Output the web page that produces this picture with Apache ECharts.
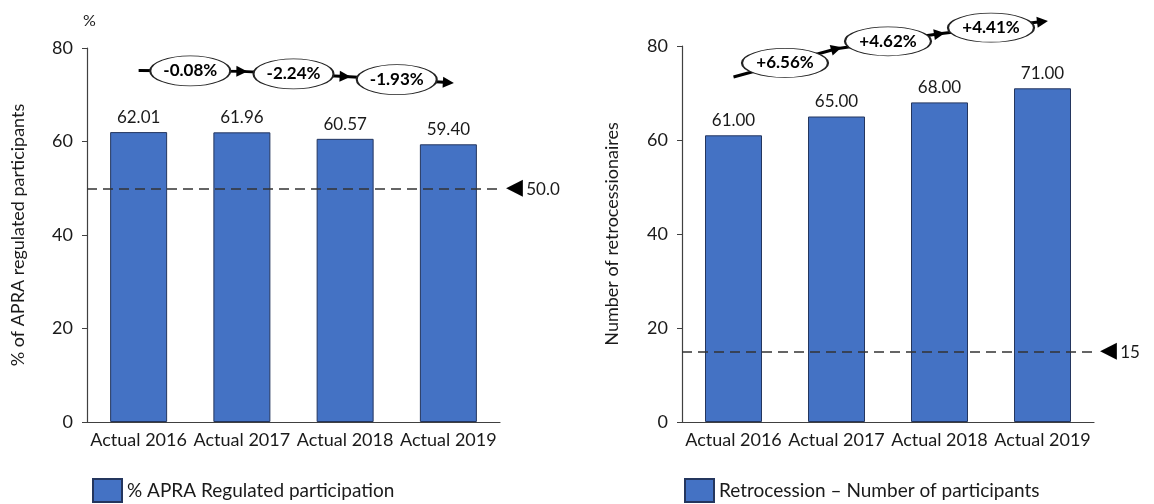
<!DOCTYPE html>
<html>
<head>
<meta charset="utf-8">
<script src="https://cdn.jsdelivr.net/npm/echarts@6/dist/echarts.min.js"></script>
<style>html,body{margin:0;padding:0;background:#fff}#c{width:1154px;height:504px}</style>
</head>
<body>
<div id="c"></div>
<script>
const categories = ['Actual 2016', 'Actual 2017', 'Actual 2018', 'Actual 2019'];
const aprValues = [62.01, 61.96, 60.57, 59.40];
const retroValues = [61.00, 65.00, 68.00, 71.00];
const aprChangeLabels = ['-0.08%', '-2.24%', '-1.93%'];
const retroChangeLabels = ['+6.56%', '+4.62%', '+4.41%'];
const aprArrowLevels = [75.2, 75.0, 73.9, 72.6];
const retroArrowLevels = [73.4, 79.4, 82.6, 85.2];
const aprThreshold = 50;
const aprThresholdLabel = '50.0';
const retroThreshold = 15;
const retroThresholdLabel = '15';
const yMin = 0, yMax = 80, yStep = 20;
const aprSeriesName = '% APRA Regulated participation';
const retroSeriesName = 'Retrocession \u2013 Number of participants';
const aprAxisName = '% of APRA regulated participants';
const retroAxisName = 'Number of retrocessionaires';

const FONT = 'Lato, "Noto Sans", sans-serif';
const AXIS_COLOR = '#404040';
const TEXT_COLOR = '#1a1a1a';
const BAR_COLOR = '#4472C4';
const BAR_BORDER = '#24365e';

function segments(levels) {
  const out = [];
  for (let i = 0; i < levels.length - 1; i++) {
    out.push({ coords: [[i, levels[i]], [i + 1, levels[i + 1]]] });
  }
  return out;
}
function mids(levels, labels) {
  const out = [];
  for (let i = 0; i < levels.length - 1; i++) {
    out.push({ value: [i + 0.5, (levels[i] + levels[i + 1]) / 2], name: labels[i] });
  }
  return out;
}

function catAxis(grid) {
  return {
    type: 'category', gridIndex: grid, data: categories,
    axisLine: { show: true, onZero: false, lineStyle: { color: AXIS_COLOR, width: 1.2 } },
    axisTick: { show: false },
    axisLabel: { color: TEXT_COLOR, fontFamily: FONT, fontSize: 18, margin: 9, interval: 0 }
  };
}
function hiddenValueX(grid) {
  return { type: 'value', gridIndex: grid, min: -0.5, max: 3.5, show: false,
    axisLine: { show: false, onZero: false } };
}
function yAx(grid, name, gap, xIdx) {
  return {
    type: 'value', gridIndex: grid, min: yMin, max: yMax, interval: yStep,
    name: name, nameLocation: 'middle', nameGap: gap, nameRotate: 90,
    nameTextStyle: { color: TEXT_COLOR, fontFamily: FONT, fontSize: 18 },
    axisLine: { show: true, onZero: false, lineStyle: { color: AXIS_COLOR, width: 1.2 } },
    axisTick: { show: true, length: 5, lineStyle: { color: AXIS_COLOR } },
    splitLine: { show: false },
    axisLabel: { color: TEXT_COLOR, fontFamily: FONT, fontSize: 18, margin: 14 }
  };
}
function barSeries(name, values, xi, yi, thr, thrLabel) {
  return {
    type: 'bar', name: name, data: values, xAxisIndex: xi, yAxisIndex: yi,
    barWidth: 57,
    itemStyle: { color: BAR_COLOR, borderColor: BAR_BORDER, borderWidth: 1 },
    label: {
      show: true, position: 'top', distance: 6, color: TEXT_COLOR, fontFamily: FONT, fontSize: 17,
      formatter: p => Number(p.value).toFixed(2)
    },
    markLine: {
      silent: true, symbol: 'none', animation: false,
      lineStyle: { type: [10, 6], color: '#333', width: 1.5 },
      label: {
        show: true, position: 'end', distance: 6,
        formatter: '{t|\u25C0} {v|' + thrLabel + '}',
        rich: {
          t: { fontFamily: '"DejaVu Sans"', fontSize: 22, color: '#000' },
          v: { fontFamily: FONT, fontSize: 17, color: TEXT_COLOR, padding: [2, 0, 0, 0] }
        }
      },
      data: [{ yAxis: thr }]
    }
  };
}
function arrowSeries(levels, xi, yi) {
  return {
    type: 'lines', coordinateSystem: 'cartesian2d', xAxisIndex: xi, yAxisIndex: yi,
    clip: false, silent: true, z: 3,
    symbol: ['none', 'triangle'], symbolSize: 11,
    lineStyle: { color: '#000', width: 3, opacity: 1 },
    data: segments(levels)
  };
}
function ellipseSeries(levels, labels, xi, yi, size) {
  return {
    type: 'scatter', xAxisIndex: xi, yAxisIndex: yi, clip: false, silent: true, z: 5,
    symbol: 'circle', symbolSize: size,
    itemStyle: { color: '#fff', borderColor: '#222', borderWidth: 1.3, opacity: 1 },
    label: {
      show: true, position: 'inside', color: '#000', fontFamily: FONT, fontSize: 17, fontWeight: 'bold',
      formatter: p => p.name
    },
    data: mids(levels, labels)
  };
}

const chart = echarts.init(document.getElementById('c'), null, { renderer: 'canvas' });
chart.setOption({
  animation: false,
  backgroundColor: '#fff',
  title: { text: '%', left: 83, top: 13, padding: 0, textStyle: { fontFamily: FONT, fontSize: 16, fontWeight: 'normal', color: TEXT_COLOR } },
  grid: [
    { left: 87, right: 654, top: 48, bottom: 82 },
    { left: 682, right: 60, top: 46, bottom: 82 }
  ],
  xAxis: [catAxis(0), hiddenValueX(0), catAxis(1), hiddenValueX(1)],
  yAxis: [yAx(0, aprAxisName, 60), yAx(1, retroAxisName, 61)],
  legend: [
    { data: [aprSeriesName], left: 92, top: 478, padding: 0, itemWidth: 29, itemHeight: 23, itemGap: 10, icon: 'rect',
      textStyle: { fontFamily: FONT, fontSize: 19, color: TEXT_COLOR } },
    { data: [retroSeriesName], left: 684, top: 478, padding: 0, itemWidth: 29, itemHeight: 23, itemGap: 10, icon: 'rect',
      textStyle: { fontFamily: FONT, fontSize: 19, color: TEXT_COLOR } }
  ],
  series: [
    barSeries(aprSeriesName, aprValues, 0, 0, aprThreshold, aprThresholdLabel),
    barSeries(retroSeriesName, retroValues, 2, 1, retroThreshold, retroThresholdLabel),
    arrowSeries(aprArrowLevels, 1, 0),
    arrowSeries(retroArrowLevels, 3, 1),
    ellipseSeries(aprArrowLevels, aprChangeLabels, 1, 0, [80, 30]),
    ellipseSeries(retroArrowLevels, retroChangeLabels, 3, 1, [86, 29])
  ]
});
</script>
</body>
</html>
